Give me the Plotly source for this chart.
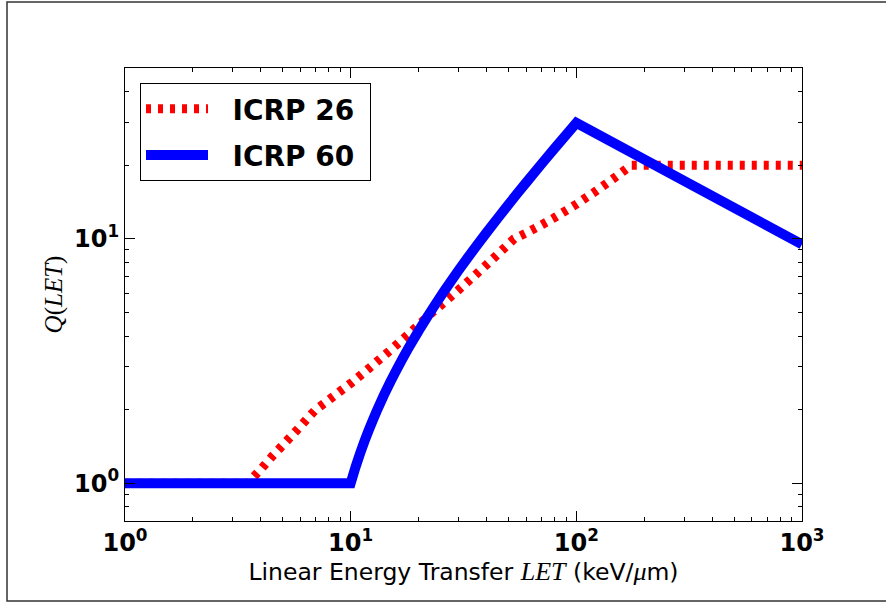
import plotly.graph_objects as go

# ICRP 26 quality factor
let26 = [1, 3.5, 4, 4.5, 5, 5.5, 6, 6.5, 7, 8, 9, 10, 12, 15, 18, 20, 23,
         26, 30, 35, 40, 45, 53, 60, 70, 80, 100, 120, 150, 175, 1000]
q26 = [1, 1, 1.14, 1.29, 1.43, 1.57, 1.71, 1.86, 2, 2.19, 2.38, 2.56, 2.94, 3.5, 4.06, 4.44, 5,
       5.5, 6.17, 7.0, 7.83, 8.67, 10, 10.57, 11.39, 12.2, 13.85, 15.5, 17.95, 20, 20]

# ICRP 60 quality factor
let60 = [1, 10, 10.5, 11, 11.5, 12, 12.5, 13, 14, 15, 16, 17, 18, 20, 22, 24, 26, 28, 30,
         33, 36, 40, 45, 50, 55, 60, 70, 80, 90, 100, 1000]
q60 = [1, 1, 1.16, 1.32, 1.48, 1.64, 1.8, 1.96, 2.28, 2.6, 2.92, 3.24, 3.56, 4.2, 4.84, 5.48, 6.12, 6.76, 7.4,
       8.36, 9.32, 10.6, 12.2, 13.8, 15.4, 17.0, 20.2, 23.4, 26.6, 29.8, 9.49]

series_names = ["ICRP 26", "ICRP 60"]

x_tickvals = [1, 10, 100, 1000]
x_ticktext = ["<b>10<sup>0</sup></b>", "<b>10<sup>1</sup></b>", "<b>10<sup>2</sup></b>", "<b>10<sup>3</sup></b>"]
y_tickvals = [1, 10]
y_ticktext = ["<b>10<sup>0</sup></b>", "<b>10<sup>1</sup></b>"]

pad = "\u00a0\u00a0"

fig = go.Figure()
fig.add_trace(go.Scatter(x=let26, y=q26, mode="lines", name=pad + series_names[0] + "\u00a0", legendgroup="a",
                         line=dict(color="#ff0000", width=9, dash="5px,7px", simplify=False)))
fig.add_trace(go.Scatter(x=let60, y=q60, mode="lines", name=pad + series_names[1] + "\u00a0", legendgroup="b",
                         line=dict(color="#0000ff", width=10, simplify=False)))

W, H = 886, 602
L, R, T, B = 125, 84, 68, 81
pw, ph = W - L - R, H - T - B

def px(x):
    return (x - L) / pw

def py(y):
    return (H - B - y) / ph

axis_common = dict(
    type="log", showline=True, linecolor="black", linewidth=1, mirror="allticks",
    ticks="inside", ticklen=10, tickwidth=1.3, tickcolor="black", showgrid=False, zeroline=False,
    tickfont=dict(family="DejaVu Sans", size=24, color="black"),
    minor=dict(ticks="inside", ticklen=4, tickwidth=1, tickcolor="black", showgrid=False, dtick="D1"),
)

serif = "<span style=\"font-family:'Liberation Serif';font-size:26px\"><i>%s</i></span>"

fig.update_layout(
    width=W, height=H, margin=dict(l=L, r=R, t=T, b=B),
    paper_bgcolor="white", plot_bgcolor="white",
    font=dict(family="DejaVu Sans", color="black"),
    xaxis=dict(axis_common, range=[0, 3], tickvals=x_tickvals, ticktext=x_ticktext,
               title=dict(text="Linear Energy Transfer " + (serif % "LET") + " (keV/" + (serif % "μ") + "m)",
                          font=dict(family="DejaVu Sans", size=23.5, color="black"), standoff=6)),
    yaxis=dict(axis_common, range=[-0.155, 1.699], tickvals=y_tickvals, ticktext=y_ticktext,
               title=dict(text="<i>Q</i>(<i>LET</i>)",
                          font=dict(family="Liberation Serif", size=25, color="black"), standoff=4)),
    showlegend=True,
    legend=dict(x=px(140), y=py(83), xanchor="left", yanchor="top",
                bgcolor="white", bordercolor="black", borderwidth=1,
                font=dict(family="DejaVu Sans", size=28, color="black", weight="bold"),
                itemwidth=62, tracegroupgap=7),
    shapes=[dict(type="rect", xref="paper", yref="paper",
                 x0=px(7), x1=px(910), y0=py(601), y1=py(2),
                 line=dict(color="#333333", width=1.5), fillcolor="rgba(0,0,0,0)", layer="below")],
)

fig.write_html("out.html")
